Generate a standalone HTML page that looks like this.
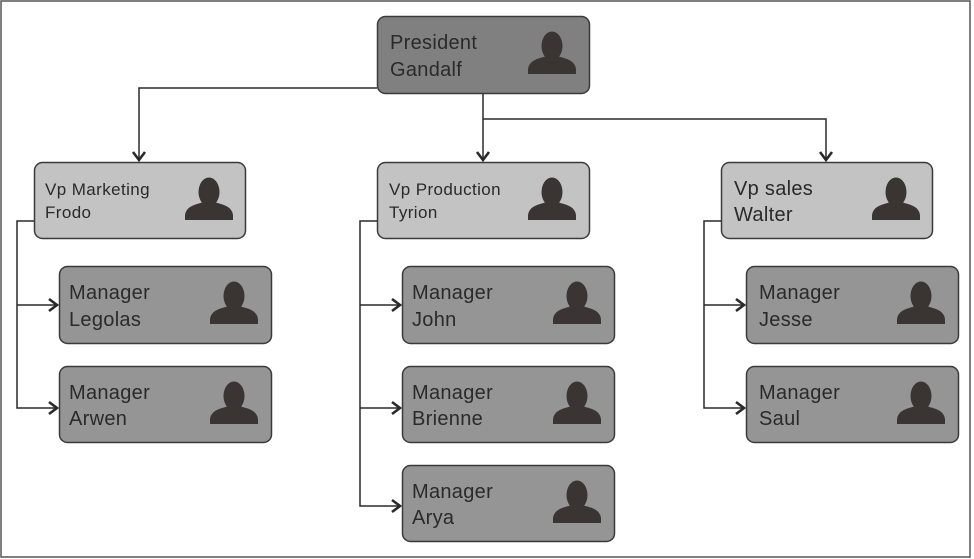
<!DOCTYPE html>
<html><head><meta charset="utf-8"><style>
html,body{margin:0;padding:0;background:#fff;}
svg{display:block;}
text{font-family:"Liberation Sans",sans-serif;fill:#2a2a2a;letter-spacing:0.3px;}
.s{font-size:17px;letter-spacing:0.4px;}
.l{font-size:20px;}
</style></head><body>
<svg width="974" height="559" viewBox="0 0 974 559" xmlns="http://www.w3.org/2000/svg">
<defs>
<g id="ic">
<ellipse cx="175" cy="30" rx="10.5" ry="14.5" fill="#3a3533"/>
<path d="M151,58 L151,53 Q152,45 163,42 L170,40 L180,40 L187,42 Q198,45 199,53 L199,58 Z" fill="#3a3533"/>
</g>
<g id="ar"><path d="M-6,-8 L0,0 L6,-8" fill="none" stroke="#2a2a2a" stroke-width="2.6"/></g>
<g id="ah"><path d="M-8,-6 L0,0 L-8,6" fill="none" stroke="#2a2a2a" stroke-width="2.6"/></g>
</defs>
<rect x="1" y="1" width="969" height="556" fill="#fff" stroke="#555" stroke-width="1.5"/>
<g fill="none" stroke="#2a2a2a" stroke-width="1.5">
<path d="M377,88 H139 V160"/>
<path d="M483,93 V160"/>
<path d="M483,119 H826 V160"/>
<path d="M34,221 H17 V408 H57 M17,305 H57"/>
<path d="M377,221 H360 V506 H400 M360,305 H400 M360,408 H400"/>
<path d="M721,221 H704 V408 H744 M704,305 H744"/>
</g>
<use href="#ar" x="139" y="160"/><use href="#ar" x="483" y="160"/><use href="#ar" x="826" y="160"/>
<use href="#ah" x="57" y="305"/><use href="#ah" x="57" y="408"/>
<use href="#ah" x="400" y="305"/><use href="#ah" x="400" y="408"/><use href="#ah" x="400" y="506"/>
<use href="#ah" x="744" y="305"/><use href="#ah" x="744" y="408"/>

<g transform="translate(377,16)"><rect x="0.5" y="0.5" width="212" height="77" rx="8" fill="#808080" stroke="#3a3a3a" stroke-width="1.5"/><use href="#ic"/><text class="l" x="13" y="33">President</text><text class="l" x="13" y="60">Gandalf</text></g>

<g transform="translate(34,162)"><rect x="0.5" y="0.5" width="211" height="76" rx="8" fill="#c3c3c3" stroke="#3a3a3a" stroke-width="1.5"/><use href="#ic"/><text class="s" x="11" y="33">Vp Marketing</text><text class="s" x="11" y="56">Frodo</text></g>
<g transform="translate(377,162)"><rect x="0.5" y="0.5" width="212" height="76" rx="8" fill="#c3c3c3" stroke="#3a3a3a" stroke-width="1.5"/><use href="#ic"/><text class="s" x="12" y="33">Vp Production</text><text class="s" x="12" y="56">Tyrion</text></g>
<g transform="translate(721,162)"><rect x="0.5" y="0.5" width="211" height="76" rx="8" fill="#c3c3c3" stroke="#3a3a3a" stroke-width="1.5"/><use href="#ic"/><text class="l" x="13" y="33">Vp sales</text><text class="l" x="13" y="59">Walter</text></g>

<g transform="translate(59,266)"><rect x="0.5" y="0.5" width="212" height="77" rx="8" fill="#959595" stroke="#3a3a3a" stroke-width="1.5"/><use href="#ic"/><text class="l" x="10" y="33">Manager</text><text class="l" x="10" y="60">Legolas</text></g>
<g transform="translate(59,366)"><rect x="0.5" y="0.5" width="212" height="76" rx="8" fill="#959595" stroke="#3a3a3a" stroke-width="1.5"/><use href="#ic"/><text class="l" x="10" y="33">Manager</text><text class="l" x="10" y="59">Arwen</text></g>
<g transform="translate(402,266)"><rect x="0.5" y="0.5" width="212" height="77" rx="8" fill="#959595" stroke="#3a3a3a" stroke-width="1.5"/><use href="#ic"/><text class="l" x="10" y="33">Manager</text><text class="l" x="10" y="60">John</text></g>
<g transform="translate(402,366)"><rect x="0.5" y="0.5" width="212" height="76" rx="8" fill="#959595" stroke="#3a3a3a" stroke-width="1.5"/><use href="#ic"/><text class="l" x="10" y="33">Manager</text><text class="l" x="10" y="59">Brienne</text></g>
<g transform="translate(402,465)"><rect x="0.5" y="0.5" width="212" height="76" rx="8" fill="#959595" stroke="#3a3a3a" stroke-width="1.5"/><use href="#ic"/><text class="l" x="10" y="33">Manager</text><text class="l" x="10" y="59">Arya</text></g>
<g transform="translate(746,266)"><rect x="0.5" y="0.5" width="212" height="77" rx="8" fill="#959595" stroke="#3a3a3a" stroke-width="1.5"/><use href="#ic"/><text class="l" x="13" y="33">Manager</text><text class="l" x="13" y="60">Jesse</text></g>
<g transform="translate(746,366)"><rect x="0.5" y="0.5" width="212" height="76" rx="8" fill="#959595" stroke="#3a3a3a" stroke-width="1.5"/><use href="#ic"/><text class="l" x="13" y="33">Manager</text><text class="l" x="13" y="59">Saul</text></g>
</svg>
</body></html>
